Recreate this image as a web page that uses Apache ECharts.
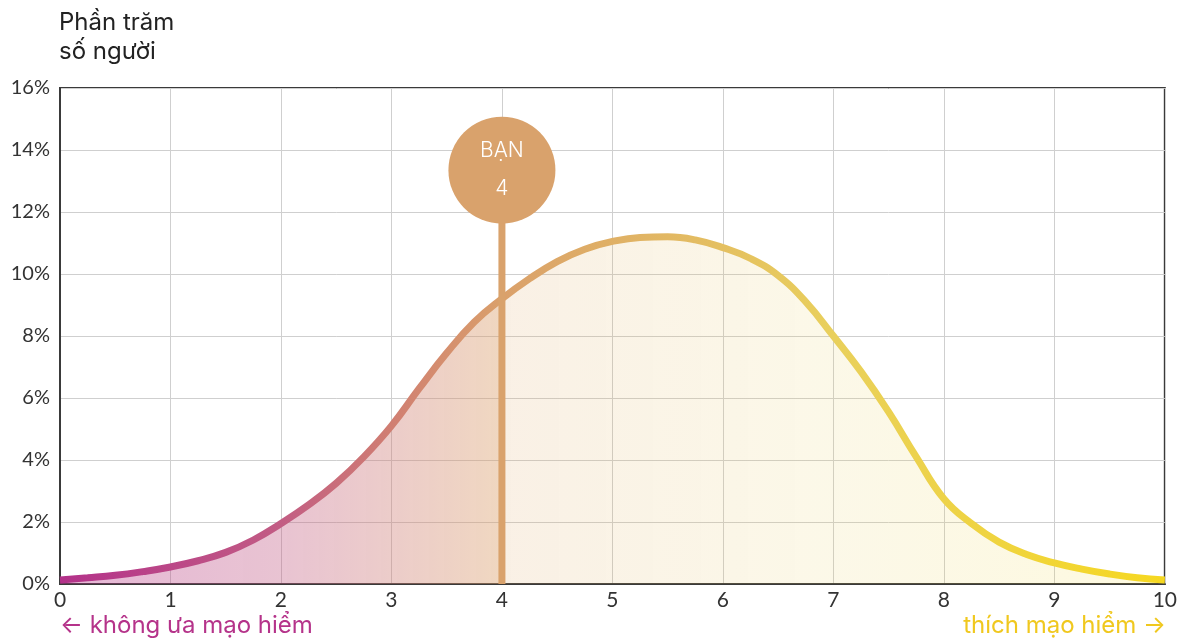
<!DOCTYPE html>
<html>
<head>
<meta charset="utf-8">
<script src="https://cdn.jsdelivr.net/npm/echarts@6/dist/echarts.min.js"></script>
<style>
  html, body { margin: 0; padding: 0; background: #fff; }
  #chart { width: 1180px; height: 641px; }
</style>
</head>
<body>
<div id="chart"></div>
<script>
// risk score (x) and share of people in % (y)
const scores = [0, 0.25, 0.5, 0.75, 1, 1.25, 1.5, 1.75, 2, 2.25, 2.5, 2.75, 3, 3.25, 3.5, 3.75,
  4, 4.25, 4.5, 4.75, 5, 5.25, 5.5, 5.75, 6, 6.25, 6.5, 6.75, 7, 7.25, 7.5, 7.75,
  8, 8.25, 8.5, 8.75, 9, 9.25, 9.5, 9.75, 10]
const shares = [0.13, 0.2, 0.28, 0.4, 0.55, 0.75, 1.02, 1.42, 1.95, 2.55, 3.25, 4.1, 5.1, 6.3, 7.45, 8.45,
  9.2, 9.85, 10.4, 10.8, 11.05, 11.18, 11.2, 11.1, 10.85, 10.5, 9.95, 9.1, 8.0, 6.85, 5.55, 4.1,
  2.75, 1.95, 1.35, 0.95, 0.68, 0.48, 0.32, 0.2, 0.13]
const youScore = 4
const youBubble = 13.35
const yTicks = [0, 2, 4, 6, 8, 10, 12, 14, 16]

const font = 'Lato'
const textFont = 'Inter'
const chart = echarts.init(document.getElementById('chart'))

const lineGrad = new echarts.graphic.LinearGradient(0, 0, 1, 0, [
  { offset: 0, color: '#b3318a' },
  { offset: 0.2, color: '#c25c84' },
  { offset: 0.3, color: '#d07e72' },
  { offset: 0.4, color: '#daa06b' },
  { offset: 0.55, color: '#e2b863' },
  { offset: 0.7, color: '#e9d05c' },
  { offset: 1, color: '#f6d820' }
])

const areaGrad = new echarts.graphic.LinearGradient(0, 0, 1, 0, [
  { offset: 0, color: 'rgba(181,50,138,0.5)' },
  { offset: 0.2, color: 'rgba(194,92,132,0.52)' },
  { offset: 0.399, color: 'rgba(219,160,106,0.6)' },
  { offset: 0.4, color: 'rgba(220,165,100,0.24)' },
  { offset: 0.7, color: 'rgba(233,208,92,0.2)' },
  { offset: 1, color: 'rgba(246,216,32,0.2)' }
])

chart.setOption({
  animation: false,
  grid: {
    left: 60,
    right: 14,
    top: 88,
    bottom: 57,
    show: true,
    borderColor: '#3a3a3a',
    borderWidth: 2
  },
  xAxis: {
    type: 'value',
    min: 0,
    max: 10,
    interval: 1,
    axisLine: { show: true, lineStyle: { color: '#3a3a3a', width: 2 } },
    axisTick: { show: false },
    axisLabel: { color: '#333', fontSize: 21, fontFamily: font, margin: 6 },
    splitLine: { show: true, lineStyle: { color: '#cfcfcf', width: 1 } }
  },
  yAxis: {
    type: 'value',
    min: 0,
    max: yTicks[yTicks.length - 1],
    interval: 2,
    axisLine: { show: true, lineStyle: { color: '#3a3a3a', width: 2 } },
    axisTick: { show: false },
    axisLabel: { color: '#333', fontSize: 20, fontFamily: font, margin: 10, formatter: '{value}%' },
    splitLine: { show: true, lineStyle: { color: '#cfcfcf', width: 1 } }
  },
  series: [
    {
      type: 'line',
      data: scores.map((s, i) => [s, shares[i]]),
      smooth: 0.45,
      symbol: 'none',
      lineStyle: { width: 7, color: lineGrad },
      areaStyle: { color: areaGrad },
      z: 2
    },
    {
      // "you" marker stem
      type: 'line',
      data: [[youScore, 0], [youScore, youBubble]],
      symbol: 'none',
      lineStyle: { width: 7, color: '#d9a26c' },
      z: 3
    },
    {
      type: 'scatter',
      data: [[youScore, youBubble]],
      symbolSize: 107,
      itemStyle: { color: '#d9a26c', opacity: 1 },
      label: {
        show: true,
        position: 'inside',
        formatter: 'BẠN\n' + youScore,
        color: '#fff',
        fontSize: 21,
        fontFamily: textFont,
        fontWeight: 300,
        lineHeight: 38
      },
      z: 4
    }
  ],
  graphic: [
    {
      type: 'text',
      left: 59,
      top: 8,
      style: {
        text: 'Phần trăm\nsố người',
        fill: '#222',
        font: '24px ' + textFont,
        lineHeight: 29
      }
    },
    {
      type: 'text',
      left: 60,
      top: 614,
      style: { text: '← không ưa mạo hiểm', fill: '#b5338a', font: '24px ' + textFont }
    },
    {
      type: 'text',
      right: 14,
      top: 614,
      style: { text: 'thích mạo hiểm →', fill: '#f0c81e', font: '24px ' + textFont }
    }
  ]
})
</script>
</body>
</html>
